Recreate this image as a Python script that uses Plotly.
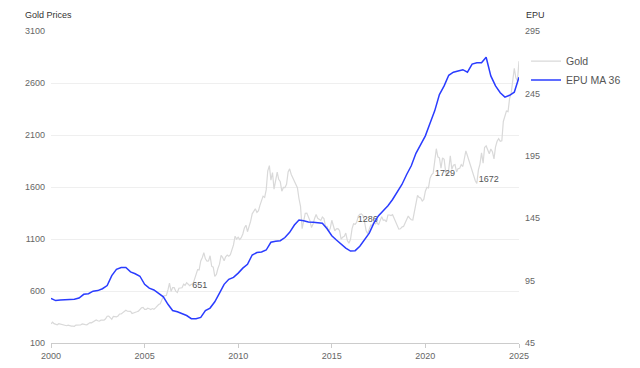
import plotly.graph_objects as go

# ---- Gold monthly prices (USD/oz), Jan 2000 .. Jan 2025 ----
gold_values = [
    284, 300, 286, 280, 275, 286, 282, 275, 274, 270, 266, 272,   # 2000
    266, 262, 263, 261, 272, 270, 268, 273, 283, 283, 276, 275,   # 2001
    282, 296, 294, 302, 314, 322, 314, 310, 319, 317, 319, 333,   # 2002
    357, 359, 341, 328, 355, 356, 351, 360, 379, 379, 389, 407,   # 2003
    414, 405, 406, 404, 384, 392, 398, 400, 406, 420, 439, 442,   # 2004
    424, 423, 434, 429, 422, 431, 424, 438, 456, 470, 476, 510,   # 2005
    549, 555, 557, 610, 676, 596, 633, 632, 598, 586, 627, 629,   # 2006
    631, 665, 655, 679, 667, 651, 665, 665, 712, 754, 806, 803,   # 2007
    889, 922, 968, 909, 888, 890, 939, 839, 829, 740, 760, 816,   # 2008
    858, 943, 924, 890, 928, 945, 934, 949, 996, 1043, 1127, 1100,  # 2009
    1118, 1095, 1113, 1148, 1205, 1233, 1170, 1215, 1271, 1342, 1370, 1391,  # 2010
    1356, 1372, 1424, 1474, 1512, 1500, 1572, 1756, 1805, 1666, 1739, 1580,  # 2011
    1656, 1742, 1674, 1650, 1560, 1596, 1594, 1626, 1744, 1775, 1721, 1688,  # 2012
    1671, 1627, 1593, 1487, 1414, 1200, 1286, 1347, 1349, 1316, 1275, 1210,  # 2013
    1244, 1300, 1336, 1299, 1287, 1279, 1311, 1296, 1220, 1222, 1176, 1201,  # 2014
    1280, 1227, 1179, 1198, 1199, 1181, 1100, 1117, 1125, 1157, 1086, 1060,  # 2015
    1097, 1200, 1246, 1242, 1261, 1320, 1337, 1341, 1326, 1267, 1178, 1152,  # 2016
    1192, 1234, 1231, 1266, 1246, 1260, 1236, 1283, 1315, 1280, 1283, 1265,  # 2017
    1331, 1331, 1325, 1334, 1303, 1260, 1238, 1195, 1198, 1215, 1221, 1250,  # 2018
    1291, 1320, 1300, 1285, 1283, 1359, 1413, 1520, 1500, 1495, 1465, 1480,  # 2019
    1560, 1597, 1591, 1683, 1716, 1732, 1847, 1968, 1890, 1880, 1780, 1880,  # 2020
    1867, 1740, 1718, 1770, 1900, 1770, 1810, 1815, 1745, 1777, 1780, 1815,  # 2021
    1797, 1900, 1948, 1900, 1849, 1810, 1765, 1712, 1660, 1635, 1765, 1820,  # 2022
    1928, 1830, 1980, 1995, 1962, 1920, 1965, 1940, 1870, 1985, 2040, 2065,  # 2023
    2040, 2045, 2230, 2290, 2330, 2325, 2450, 2500, 2630, 2740, 2650, 2620,  # 2024
    2810,                                                            # 2025
]
gold_dates = [f"{2000 + i // 12}-{i % 12 + 1:02d}-01" for i in range(len(gold_values))]

# ---- EPU 36-month moving average, quarterly readings, 2000Q1 .. 2025Q1 ----
epu_values = [
    80.8, 79.0, 79.5, 79.5,      # 2000
    79.5, 80.0, 81.0, 84.0,      # 2001
    84.5, 86.5, 87.0, 88.5,      # 2002
    91.0, 99.0, 104.0, 105.5,    # 2003
    105.5, 102.0, 100.5, 98.5,   # 2004
    92.0, 89.0, 87.5, 85.0,      # 2005
    82.0, 76.0, 71.0, 70.0,      # 2006
    68.5, 67.0, 64.5, 64.5,      # 2007
    65.5, 71.0, 73.0, 78.0,      # 2008
    85.0, 92.0, 96.0, 97.6,      # 2009
    101.0, 105.0, 108.0, 115.5,  # 2010
    117.5, 118.0, 119.5, 125.7,  # 2011
    126.5, 127.0, 129.5, 133.7,  # 2012
    139.5, 143.5, 143.0, 142.0,  # 2013
    141.7, 141.5, 141.0, 136.5,  # 2014
    131.0, 127.5, 124.0, 121.0,  # 2015
    118.7, 119.0, 122.5, 127.5,  # 2016
    133.0, 141.0, 147.0, 151.0,  # 2017
    155.0, 160.0, 166.0, 172.0,  # 2018
    180.0, 187.0, 197.0, 204.0,  # 2019
    211.0, 221.0, 231.0, 244.0,  # 2020
    251.0, 259.5, 262.0, 263.0,  # 2021
    264.0, 262.0, 268.5, 269.5,  # 2022
    269.5, 274.0, 259.0, 251.0,  # 2023
    245.5, 242.0, 243.5, 246.0,  # 2024
    258.0,                       # 2025
]
epu_dates = [f"{2000 + i // 4}-{(i % 4) * 3 + 1:02d}-01" for i in range(len(epu_values))]

# ---- labelled gold points ----
label_dates = ["2007-12-15", "2016-12-01", "2021-01-20", "2023-05-20"]
label_values = [651, 1286, 1729, 1672]
label_texts = ["651", "1286", "1729", "1672"]

# ---- axis ticks ----
x_ticks = ["2000-01-01", "2005-01-01", "2010-01-01", "2015-01-01", "2020-01-01", "2025-01-01"]
x_tick_labels = ["2000", "2005", "2010", "2015", "2020", "2025"]
gold_ticks = [100, 600, 1100, 1600, 2100, 2600, 3100]
epu_ticks = [45, 95, 145, 195, 245, 295]

FONT = "Liberation Sans, Arial, sans-serif"

fig = go.Figure()
fig.add_trace(go.Scatter(
    x=gold_dates, y=gold_values, name="Gold", mode="lines",
    line=dict(color="#d9d9d9", width=1.2), yaxis="y",
))
fig.add_trace(go.Scatter(
    x=epu_dates, y=epu_values, name="EPU MA 36", mode="lines",
    line=dict(color="#2a3cff", width=1.5), yaxis="y2",
))
fig.add_trace(go.Scatter(
    x=label_dates, y=label_values, text=label_texts, mode="text",
    textposition="middle center", textfont=dict(size=9, color="#555555", family=FONT),
    showlegend=False, hoverinfo="skip", yaxis="y",
))

fig.update_layout(
    width=632, height=360,
    margin=dict(l=43, r=121, t=23, b=25, autoexpand=False),
    paper_bgcolor="white", plot_bgcolor="white",
    font=dict(family=FONT, size=9, color="#666666"),
    xaxis=dict(
        type="date", range=["2000-01-01", "2025-01-01"],
        tickvals=x_ticks, ticktext=x_tick_labels,
        showgrid=False, showline=True, linecolor="#cccccc", linewidth=1,
        ticks="outside", ticklen=4, tickcolor="#cccccc",
        tickfont=dict(size=9, color="#666666"), zeroline=False, automargin=False,
    ),
    yaxis=dict(
        range=[100, 3100], tickvals=gold_ticks,
        showgrid=True, gridcolor="#efefef", gridwidth=1,
        zeroline=False, showline=False, ticks="", ticklabelstandoff=5,
        tickfont=dict(size=9, color="#666666"), automargin=False,
    ),
    yaxis2=dict(
        range=[45, 295], tickvals=epu_ticks, overlaying="y", side="right",
        showgrid=False, zeroline=False, showline=False, ticks="", ticklabelstandoff=5,
        tickfont=dict(size=9, color="#666666"), automargin=False,
    ),
    legend=dict(
        x=1.015, y=0.95, xanchor="left", yanchor="top",
        font=dict(size=10.5, color="#555555", family=FONT),
        bgcolor="rgba(0,0,0,0)", tracegroupgap=0, itemwidth=30,
    ),
    annotations=[
        dict(text="Gold Prices", xref="paper", yref="paper", x=-0.06, y=1.03,
             xanchor="left", yanchor="bottom", showarrow=False,
             font=dict(size=9, color="#333333", family=FONT)),
        dict(text="EPU", xref="paper", yref="paper", x=1.01, y=1.03,
             xanchor="left", yanchor="bottom", showarrow=False,
             font=dict(size=9, color="#333333", family=FONT)),
    ],
)

fig.write_html("out.html")
